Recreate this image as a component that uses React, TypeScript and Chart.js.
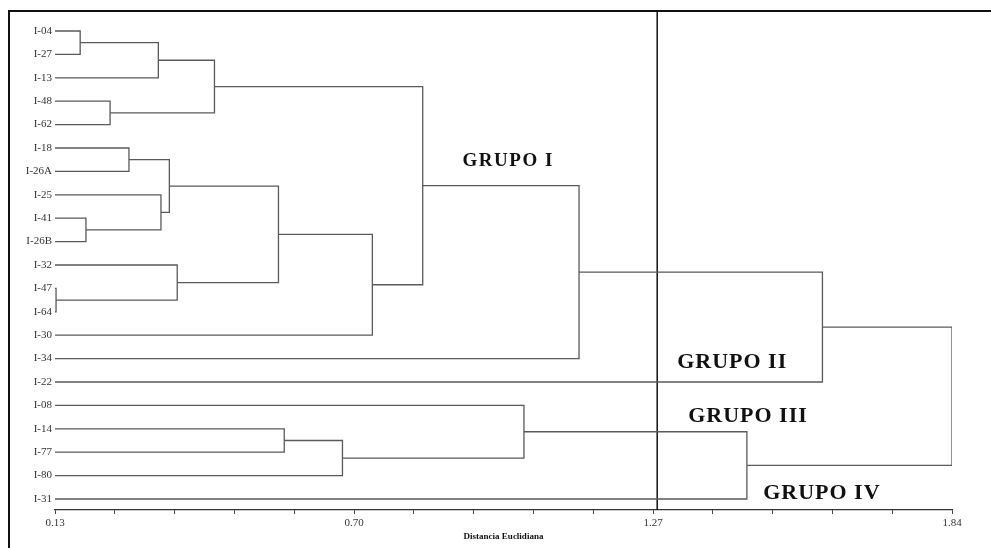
import React, { useEffect, useRef } from "react";
import { Chart, registerables } from "chart.js";

Chart.register(...registerables);

// Leaves, top to bottom
const leafLabels = [
  "I-04", "I-27", "I-13", "I-48", "I-62", "I-18", "I-26A", "I-25", "I-41", "I-26B",
  "I-32", "I-47", "I-64", "I-30", "I-34", "I-22", "I-08", "I-14", "I-77", "I-80", "I-31",
];
// Merges: ids < 21 are leaves, ids >= 21 are earlier merges (id - 21)
const mergeLeft = [0, 21, 3, 22, 5, 8, 7, 25, 11, 10, 28, 31, 24, 33, 34, 17, 36, 16, 38, 35];
const mergeRight = [1, 2, 4, 23, 6, 9, 26, 27, 12, 29, 30, 13, 32, 14, 15, 18, 19, 37, 20, 39];
const mergeHeight = [
  0.178, 0.327, 0.235, 0.434, 0.271, 0.189, 0.332, 0.348, 0.132, 0.363,
  0.556, 0.735, 0.831, 1.129, 1.593, 0.567, 0.678, 1.024, 1.449, 1.84,
];
const axisMin = 0.13;
const axisMax = 1.84;
const majorTicks = [0.13, 0.7, 1.27, 1.84];
const tickLabels = ["0.13", "0.70", "1.27", "1.84"];
const minorDivisions = 5;
const cutHeight = 1.278;
const groupNames = ["GRUPO I", "GRUPO II", "GRUPO III", "GRUPO IV"];
const groupX = [0.907, 1.316, 1.337, 1.48];
const groupY = [5.56, 14.15, 16.45, 19.74];
const axisTitle = "Distancia Euclidiana";

function buildSegments() {
  const n = leafLabels.length;
  const nodeY: number[] = leafLabels.map((_, i) => i);
  const nodeH: number[] = leafLabels.map(() => axisMin);
  const segs: { x: number; y: number }[][] = [];
  mergeHeight.forEach((h, k) => {
    const a = mergeLeft[k];
    const b = mergeRight[k];
    const ya = nodeY[a];
    const yb = nodeY[b];
    segs.push([
      { x: nodeH[a], y: ya },
      { x: h, y: ya },
      { x: h, y: yb },
      { x: nodeH[b], y: yb },
    ]);
    nodeY[n + k] = (ya + yb) / 2;
    nodeH[n + k] = h;
  });
  return segs;
}

function buildXTicks() {
  const vals: number[] = [];
  for (let i = 0; i < majorTicks.length - 1; i++) {
    const a = majorTicks[i];
    const b = majorTicks[i + 1];
    for (let j = 0; j < minorDivisions; j++) vals.push(a + ((b - a) * j) / minorDivisions);
  }
  vals.push(majorTicks[majorTicks.length - 1]);
  return vals;
}

const groupLabelPlugin = {
  id: "groupLabels",
  afterDatasetsDraw(chart: any) {
    const { ctx, scales } = chart;
    ctx.save();
    ctx.fillStyle = "#111";
    ctx.textBaseline = "middle";
    ctx.textAlign = "left";
    groupNames.forEach((name, i) => {
      const size = i === 0 ? 19 : 22;
      ctx.font = `bold ${size}px "Liberation Serif", "Times New Roman", serif`;
      try {
        (ctx as any).letterSpacing = i === 0 ? "1.5px" : "1px";
      } catch (e) {}
      ctx.fillText(name, scales.x.getPixelForValue(groupX[i]), scales.y.getPixelForValue(groupY[i]));
    });
    ctx.restore();
  },
};

export default function App() {
  const canvasRef = useRef<HTMLCanvasElement>(null);

  useEffect(() => {
    if (!canvasRef.current) return;
    const segs = buildSegments();
    const xTicks = buildXTicks();
    const datasets: any[] = segs.map((s) => ({
      data: s,
      showLine: true,
      borderColor: "#5a5a5a",
      borderWidth: 1.3,
      pointRadius: 0,
      fill: false,
    }));
    datasets.push({
      data: [
        { x: cutHeight, y: -0.855 },
        { x: cutHeight, y: 20.47 },
      ],
      showLine: true,
      borderColor: "#111",
      borderWidth: 1.5,
      pointRadius: 0,
      fill: false,
    });

    const chart = new Chart(canvasRef.current, {
      type: "scatter",
      data: { datasets },
      plugins: [groupLabelPlugin],
      options: {
        animation: false,
        responsive: false,
        layout: { padding: { top: 11, right: 39, left: 0, bottom: 0 } },
        plugins: { legend: { display: false }, tooltip: { enabled: false } },
        events: [],
        scales: {
          x: {
            type: "linear",
            position: "bottom",
            min: axisMin,
            max: axisMax,
            afterBuildTicks: (scale: any) => {
              scale.ticks = xTicks.map((v) => ({ value: v }));
            },
            afterFit: (scale: any) => {
              scale.height = 38;
            },
            grid: {
              display: true,
              drawOnChartArea: false,
              drawTicks: true,
              tickLength: 4,
              color: "#444",
            },
            border: { display: true, color: "#333", width: 1.2 },
            ticks: {
              autoSkip: false,
              maxRotation: 0,
              padding: 3,
              color: "#333",
              font: { family: '"Liberation Serif", "Times New Roman", serif', size: 11 },
              callback: (value: any) => {
                const i = majorTicks.findIndex((m) => Math.abs(m - Number(value)) < 1e-6);
                return i >= 0 ? tickLabels[i] : "";
              },
            },
            title: {
              display: true,
              text: axisTitle,
              color: "#111",
              font: { family: '"Liberation Serif", "Times New Roman", serif', size: 9, weight: "bold" },
              padding: { top: 0, bottom: 6 },
            },
          },
          y: {
            type: "linear",
            position: "left",
            reverse: true,
            min: -0.855,
            max: 20.47,
            afterBuildTicks: (scale: any) => {
              scale.ticks = leafLabels.map((_, i) => ({ value: i }));
            },
            afterFit: (scale: any) => {
              scale.width = 55;
            },
            grid: { display: false, drawTicks: false },
            border: { display: false },
            ticks: {
              autoSkip: false,
              padding: 3,
              color: "#333",
              font: { family: '"Liberation Serif", "Times New Roman", serif', size: 11 },
              callback: (value: any) => leafLabels[Math.round(Number(value))] ?? "",
            },
          },
        },
      } as any,
    });
    return () => chart.destroy();
  }, []);

  return (
    <div style={{ position: "absolute", left: 0, top: 0, width: 991, height: 548, background: "#fff" }}>
      <canvas ref={canvasRef} width={991} height={548} style={{ display: "block" }} />
      <div
        style={{
          position: "absolute",
          left: 8,
          top: 10,
          width: 983,
          height: 538,
          borderTop: "2px solid #111",
          borderLeft: "2px solid #111",
          pointerEvents: "none",
          boxSizing: "border-box",
        }}
      />
    </div>
  );
}
